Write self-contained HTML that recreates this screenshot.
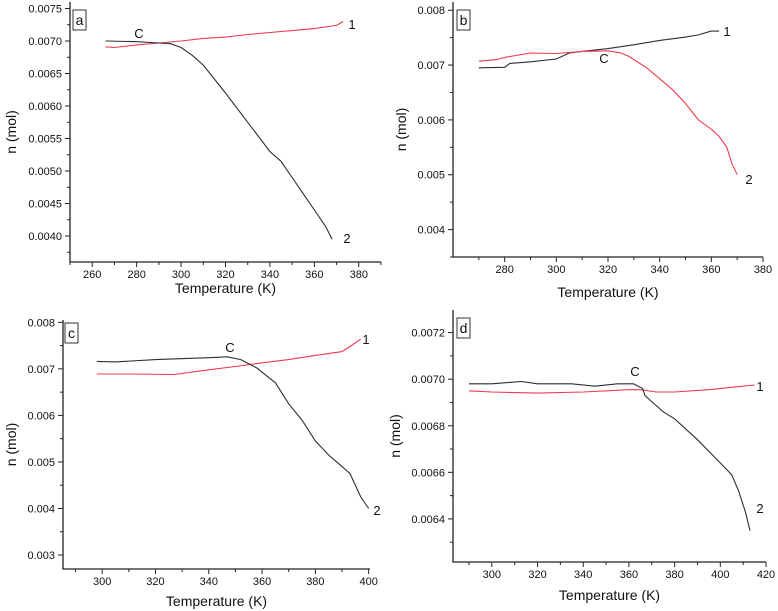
<!DOCTYPE html>
<html><head><meta charset="utf-8"><style>
body{margin:0;background:#fff;}
svg{display:block;font-family:"Liberation Sans",Arial,sans-serif;}
</style></head><body>
<svg id="fig" width="778" height="611" viewBox="0 0 778 611"></svg>
<script>
// Panel a data
const aT1=[266,270,280,290,300,310,320,330,340,350,360,370,373];
const aN1=[0.00691,0.00690,0.00694,0.00697,0.00700,0.00704,0.00706,0.00710,0.00713,0.00716,0.00719,0.00724,0.00730];
const aT2=[266,280,290,295,300,305,310,320,330,340,345,350,355,360,365,368];
const aN2=[0.00700,0.00699,0.00697,0.00696,0.00690,0.00678,0.00663,0.00620,0.00575,0.00530,0.00515,0.00490,0.00465,0.00440,0.00415,0.00395];
const aXTicks=[260,280,300,320,340,360,380];
const aYTicks=["0.0040","0.0045","0.0050","0.0055","0.0060","0.0065","0.0070","0.0075"];
// Panel b data
const bT1=[270,280,282,290,300,305,310,320,330,340,350,355,360,363];
const bN1=[0.00695,0.00696,0.00703,0.00706,0.00711,0.00722,0.00725,0.00730,0.00737,0.00745,0.00751,0.00755,0.00762,0.00762];
const bT2=[270,277,280,290,300,310,320,325,328,335,340,345,350,355,360,363,366,368,370];
const bN2=[0.00707,0.00710,0.00714,0.00722,0.00721,0.00725,0.00726,0.00722,0.00716,0.00695,0.00675,0.00655,0.00630,0.00600,0.00583,0.00570,0.00550,0.00520,0.00500];
const bXTicks=[280,300,320,340,360,380];
const bYTicks=["0.004","0.005","0.006","0.007","0.008"];
// Panel c data
const cT1=[298,310,327,340,350,360,370,380,390,393,397];
const cN1=[0.00689,0.00689,0.00688,0.00698,0.00705,0.00713,0.00720,0.00729,0.00737,0.00748,0.00764];
const cT2=[298,305,320,340,347,352,358,365,370,375,380,385,390,393,397,400];
const cN2=[0.00716,0.00715,0.00720,0.00724,0.00726,0.00720,0.00702,0.00670,0.00625,0.00590,0.00545,0.00515,0.00490,0.00475,0.00425,0.00400];
const cXTicks=[300,320,340,360,380,400];
const cYTicks=["0.003","0.004","0.005","0.006","0.007","0.008"];
// Panel d data
const dT1=[290,300,320,340,360,365,372,380,395,405,415];
const dN1=[0.006950,0.006945,0.006940,0.006945,0.006955,0.006955,0.006945,0.006945,0.006955,0.006965,0.006975];
const dT2=[290,300,313,320,335,345,355,362,366,367,375,380,390,400,405,408,411,413];
const dN2=[0.00698,0.00698,0.00699,0.00698,0.00698,0.00697,0.00698,0.00698,0.00696,0.00693,0.00686,0.00683,0.00674,0.00664,0.00659,0.00652,0.00643,0.00635];
const dXTicks=[300,320,340,360,380,400,420];
const dYTicks=["0.0064","0.0066","0.0068","0.0070","0.0072"];

const NS="http://www.w3.org/2000/svg";
const svg=document.getElementById('fig');
function mk(tag,attrs,parent){const e=document.createElementNS(NS,tag);for(const k in attrs)e.setAttribute(k,attrs[k]);(parent||svg).appendChild(e);return e;}

function panel(p){
  const g=mk('g',{});
  
  
  const sx=t=>p.x0+(t-p.t0)/(p.t1-p.t0)*(p.x1-p.x0);
  const sy=v=>p.y0-(v-p.v0)/(p.v1-p.v0)*(p.y0-p.y1);
  const ax=mk('path',{d:`M${p.x0},${p.y1}V${p.y0}H${p.x1}`,stroke:'#222',fill:'none','stroke-width':1.3},g);
  
  
  // x ticks
  const xs=p.xt[1]-p.xt[0];
  for(let i=0;i<p.xt.length;i++){
    const t=p.xt[i],x=sx(t);
    mk('line',{x1:x,x2:x,y1:p.y0,y2:p.y0+5,stroke:'#222'},g);
    const tx=mk('text',{x:x,y:p.y0+16,'font-size':11,'text-anchor':'middle',fill:'#111'},g);
    tx.textContent=t;
    
    
  }
  for(let t=p.xt[0]-xs/2;t<=p.t1;t+=xs){ if(t>=p.t0){const x=sx(t);mk('line',{x1:x,x2:x,y1:p.y0,y2:p.y0+3,stroke:'#222'},g);} }
  const ys=parseFloat(p.yt[1])-parseFloat(p.yt[0]);
  for(let i=0;i<p.yt.length;i++){
    const v=parseFloat(p.yt[i]),y=sy(v);
    mk('line',{x1:p.x0-5,x2:p.x0,y1:y,y2:y,stroke:'#222'},g);
    const tx=mk('text',{x:p.x0-8,y:y+4,'font-size':11,'text-anchor':'end',fill:'#111'},g);
    tx.textContent=p.yt[i];
    
    
  }
  for(let v=parseFloat(p.yt[0])-ys/2;v<=p.v1;v+=ys){ if(v>=p.v0){const y=sy(v);mk('line',{x1:p.x0-3,x2:p.x0,y1:y,y2:y,stroke:'#222'},g);} }
  const xt=mk('text',{x:(p.x0+p.x1)/2,y:p.titleY,'font-size':14,'text-anchor':'middle',fill:'#111'},g);
  xt.textContent='Temperature (K)';
  
  
  const yt=mk('text',{x:0,y:0,'font-size':14,'text-anchor':'middle',fill:'#111',transform:`translate(${p.ytx},${(p.y0+p.y1)/2}) rotate(-90)`},g);
  yt.textContent='n (mol)';
  
  
  p.series.forEach(s=>{
    const pts=s.t.map((t,i)=>sx(t).toFixed(1)+','+sy(s.n[i]).toFixed(1)).join(' ');
    const pl=mk('polyline',{points:pts,fill:'none',stroke:s.c,'stroke-width':1.1},g);
    
    
  });
  const bx=mk('rect',{x:p.lb[0],y:p.lb[1],width:13,height:20,fill:'#fff',stroke:'#333','stroke-width':1},g);
  
  
  const bl=mk('text',{x:p.lb[0]+6.5,y:p.lb[1]+15,'font-size':14,'text-anchor':'middle',fill:'#111'},g);
  bl.textContent=p.id;
  
  
  p.ann.forEach(a=>{
    const t=mk('text',{x:a[1],y:a[2],'font-size':13,'text-anchor':'middle',fill:'#111'},g);
    t.textContent=a[0];
    
    
  });
}
const RED='#ee3b4e',BLK='#2b2f33';
panel({id:'a',x0:70,x1:381,y0:262,y1:2,t0:250,t1:390,v0:0.0036,v1:0.0076,xt:aXTicks,yt:aYTicks,titleY:293,ytx:16,lb:[73,10],
  series:[{t:aT1,n:aN1,c:RED,name:'curve-1-red'},{t:aT2,n:aN2,c:BLK,name:'curve-2-black'}],
  ann:[['C',139,38],['1',352,29],['2',347,243]]});
panel({id:'b',x0:453,x1:763,y0:257,y1:2,t0:260,t1:380,v0:0.0035,v1:0.00815,xt:bXTicks,yt:bYTicks,titleY:297,ytx:406,lb:[457,10],
  series:[{t:bT1,n:bN1,c:BLK,name:'curve-1-black'},{t:bT2,n:bN2,c:RED,name:'curve-2-red'}],
  ann:[['C',604,63],['1',727,36],['2',749,184]]});
panel({id:'c',x0:63,x1:370,y0:569,y1:320,t0:285.3,t1:400.5,v0:0.0027,v1:0.00805,xt:cXTicks,yt:cYTicks,titleY:606,ytx:16,lb:[65,323],
  series:[{t:cT1,n:cN1,c:RED,name:'curve-1-red'},{t:cT2,n:cN2,c:BLK,name:'curve-2-black'}],
  ann:[['C',230,352],['1',366,344],['2',377,515]]});
panel({id:'d',x0:453,x1:766,y0:562,y1:310,t0:283,t1:420,v0:0.006215,v1:0.007297,xt:dXTicks,yt:dYTicks,titleY:600,ytx:400,lb:[457,318],
  series:[{t:dT1,n:dN1,c:RED,name:'curve-1-red'},{t:dT2,n:dN2,c:BLK,name:'curve-2-black'}],
  ann:[['C',635,376],['1',760,391],['2',760,513]]});
</script>
</body></html>
